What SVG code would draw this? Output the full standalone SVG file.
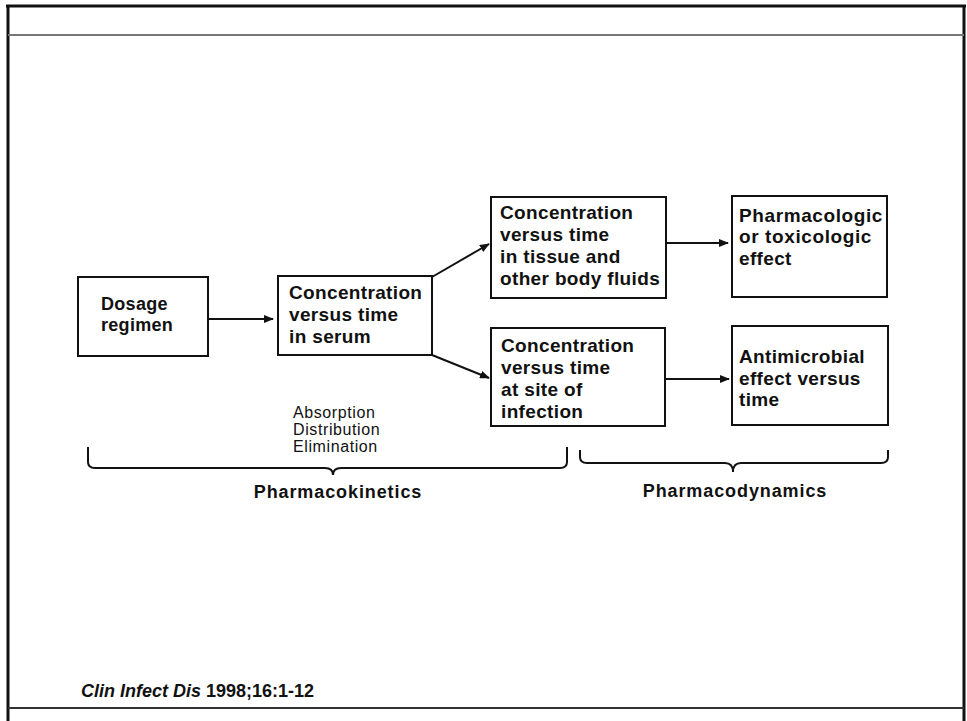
<svg xmlns="http://www.w3.org/2000/svg" width="967" height="721" viewBox="0 0 967 721">
<defs>
<style>
.box{fill:#fff;stroke:#111;stroke-width:2}
.t{font-family:"Liberation Sans",Arial,sans-serif;font-weight:bold;font-size:19px;letter-spacing:0.35px;fill:#111}
.s{font-family:"Liberation Sans",Arial,sans-serif;font-size:16px;letter-spacing:0.6px;fill:#111}
.lbl{font-family:"Liberation Sans",Arial,sans-serif;font-weight:bold;font-size:18px;letter-spacing:0.9px;fill:#111}
.c{stroke:#111;stroke-width:2;fill:none}
</style>
<marker id="ah" markerWidth="10" markerHeight="8" refX="9" refY="4" orient="auto" markerUnits="userSpaceOnUse">
<path d="M0,0 L10,4 L0,8 Z" fill="#111"/>
</marker>
</defs>
<rect width="967" height="721" fill="#fff"/>
<g id="frame">
<line x1="6" y1="6" x2="966" y2="6" stroke="#111" stroke-width="3"/>
<line x1="8" y1="5" x2="8" y2="721" stroke="#111" stroke-width="3"/>
<line x1="964" y1="5" x2="964" y2="721" stroke="#111" stroke-width="3"/>
<line x1="8" y1="35" x2="964" y2="35" stroke="#777" stroke-width="2"/>
<line x1="8" y1="708" x2="964" y2="708" stroke="#333" stroke-width="2"/>
</g>
<g id="connectors">
<line class="c" x1="208" y1="319" x2="273" y2="319" marker-end="url(#ah)"/>
<line class="c" x1="432" y1="277" x2="489" y2="244" marker-end="url(#ah)"/>
<line class="c" x1="432" y1="355" x2="489" y2="378" marker-end="url(#ah)"/>
<line class="c" x1="666" y1="243" x2="728" y2="243" marker-end="url(#ah)"/>
<line class="c" x1="665" y1="379" x2="729" y2="379" marker-end="url(#ah)"/>
</g>
<g id="dosage">
<rect class="box" x="78" y="277" width="130" height="79"/>
<text class="t" x="101" y="310" style="font-size:18px;letter-spacing:0.3px">Dosage</text>
<text class="t" x="101" y="331" style="font-size:18px;letter-spacing:0.3px">regimen</text>
</g>
<g id="serum">
<rect class="box" x="278" y="276" width="154" height="79"/>
<text class="t" x="289" y="299">Concentration</text>
<text class="t" x="289" y="321">versus time</text>
<text class="t" x="289" y="343">in serum</text>
</g>
<g id="tissue">
<rect class="box" x="491" y="197" width="175" height="101"/>
<text class="t" x="500" y="219">Concentration</text>
<text class="t" x="500" y="241">versus time</text>
<text class="t" x="500" y="263">in tissue and</text>
<text class="t" x="500" y="285">other body fluids</text>
</g>
<g id="pharmacologic">
<rect class="box" x="732" y="196" width="155" height="101"/>
<text class="t" x="739" y="222" style="letter-spacing:0.6px">Pharmacologic</text>
<text class="t" x="739" y="243" style="letter-spacing:0.6px">or toxicologic</text>
<text class="t" x="739" y="265">effect</text>
</g>
<g id="infection">
<rect class="box" x="491" y="328" width="174" height="98"/>
<text class="t" x="501" y="352">Concentration</text>
<text class="t" x="501" y="374">versus time</text>
<text class="t" x="501" y="396">at site of</text>
<text class="t" x="501" y="418">infection</text>
</g>
<g id="antimicrobial">
<rect class="box" x="732" y="326" width="156" height="99"/>
<text class="t" x="739" y="363">Antimicrobial</text>
<text class="t" x="739" y="385">effect versus</text>
<text class="t" x="739" y="406">time</text>
</g>
<g id="pk-brace">
<text class="s" x="293" y="418">Absorption</text>
<text class="s" x="293" y="435">Distribution</text>
<text class="s" x="293" y="452">Elimination</text>
<path class="c" d="M88,447 L88,462 Q88,468 95,468 L325,468 Q333,468 333,475 Q333,468 341,468 L560,468 Q567,468 567,462 L567,447"/>
<text class="lbl" x="338" y="498" text-anchor="middle">Pharmacokinetics</text>
</g>
<g id="pd-brace">
<path class="c" d="M580,450 L580,457 Q580,463 587,463 L725,463 Q733,463 733,472 Q733,463 741,463 L881,463 Q888,463 888,457 L888,450"/>
<text class="lbl" x="735" y="497" text-anchor="middle">Pharmacodynamics</text>
</g>
<g id="citation">
<text x="81" y="697" style="font-family:'Liberation Sans',Arial,sans-serif;font-weight:bold;font-size:18px;fill:#111"><tspan font-style="italic">Clin Infect Dis</tspan> 1998;16:1-12</text>
</g>
</svg>
